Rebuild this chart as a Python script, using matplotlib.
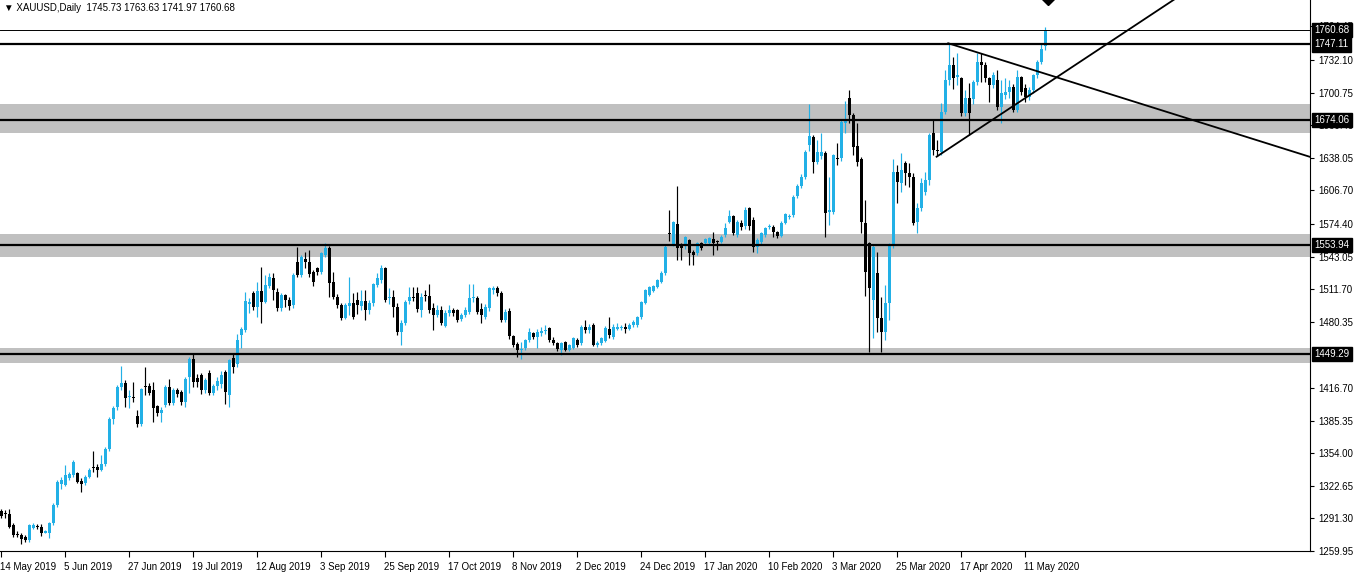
import matplotlib
matplotlib.use("Agg")
import matplotlib.pyplot as plt
import pandas as pd
from matplotlib.transforms import ScaledTranslation, blended_transform_factory

plt.rcParams['font.family'] = ['Liberation Sans', 'DejaVu Sans']

# trading days shown on the chart (broker closed on these)
holidays = ['2019-12-25', '2020-01-01', '2020-04-10']
dates = pd.bdate_range('2019-05-14', '2020-05-18').drop(pd.to_datetime(holidays))

opens = [
    1298, 1296.5, 1296, 1285, 1276, 1275.5, 1273, 1270.5, 1282, 1283.5,
    1283.5, 1277.5, 1277, 1286.5, 1304, 1324, 1323.5, 1330, 1333, 1334.5,
    1327, 1325, 1331, 1341, 1341, 1338, 1344, 1358, 1387, 1398,
    1418, 1421.8, 1408, 1408, 1389.8, 1382, 1418, 1418.9, 1414.8, 1399.5,
    1392.3, 1400, 1418, 1402, 1414.8, 1413.2, 1403.5, 1427.6, 1445, 1426,
    1429, 1414.8, 1430.8, 1412, 1419, 1420.5, 1432, 1410, 1445.2, 1440,
    1467.7, 1472.5, 1497.5, 1507.7, 1495, 1510, 1499.7, 1515, 1522, 1508.7,
    1493.3, 1506, 1501.3, 1496.5, 1538, 1525, 1540.7, 1538, 1528, 1531.8,
    1528.6, 1544.6, 1551, 1519, 1504.5, 1496.5, 1483.7, 1496, 1498, 1501.3,
    1496, 1500, 1491.7, 1498, 1516, 1520.5, 1531.8, 1503, 1504, 1494.9,
    1470.9, 1478.9, 1500, 1504, 1508.4, 1491.7, 1505.5, 1505, 1493.3, 1487,
    1491.7, 1476.3, 1488.5, 1491.7, 1491.7, 1482.7, 1486.9, 1490, 1502.9, 1502.9,
    1492.3, 1485.3, 1493.3, 1511.2, 1512.5, 1508.4, 1482, 1491, 1466.7, 1458.7,
    1452.8, 1454.8, 1462.9, 1469.3, 1466.1, 1469.9, 1471.5, 1474, 1462.9, 1459.7,
    1453.2, 1461.2, 1453.2, 1455, 1462.9, 1459.7, 1475.7, 1472.5, 1477.3, 1458,
    1459.7, 1462.2, 1473.1, 1466.1, 1473.1, 1474.4, 1475.7, 1473, 1477.3, 1477,
    1484.6, 1498.8, 1506.1, 1510.3, 1514, 1519, 1527, 1566, 1554.2, 1574.4,
    1553.6, 1553.6, 1559, 1547.8, 1546.2, 1555.8, 1556.5, 1556.5, 1559.7, 1557.6,
    1557.4, 1563.8, 1576.7, 1582.1, 1563.8, 1575.7, 1572.5, 1589.5, 1578.3, 1552.6,
    1557.4, 1563.8, 1571.5, 1571.8, 1567, 1563, 1575, 1581.3, 1583.1, 1601.3,
    1611, 1619.9, 1650.4, 1658.4, 1634.3, 1639.8, 1642.4, 1586.3, 1586.3, 1638.2,
    1637.6, 1671.2, 1695.2, 1679.2, 1649.4, 1636.6, 1575.1, 1555.8, 1501.3, 1527,
    1483.7, 1471, 1498, 1554, 1624.7, 1614.2, 1633.4, 1623.8, 1619.9, 1576.7,
    1589.5, 1605.5, 1616.7, 1661.6, 1645, 1644, 1682.4, 1712.9, 1727, 1716,
    1714.5, 1680.8, 1695.3, 1695, 1711.2, 1730, 1727.3, 1714.5, 1708, 1713,
    1687.3, 1698.5, 1701.3, 1706.5, 1684, 1716, 1705, 1697, 1703, 1717.7,
    1730.5, 1745.73,
]
highs = [
    1300, 1299, 1300, 1287, 1279, 1277, 1275, 1286, 1287, 1286,
    1285.5, 1280, 1288, 1306, 1328, 1331, 1342.5, 1336, 1347.5, 1336,
    1330, 1333, 1340, 1356, 1344, 1352.5, 1360, 1389, 1399, 1420,
    1437.8, 1424, 1414.8, 1422.8, 1395.5, 1417, 1437, 1421.2, 1422.8, 1400,
    1398, 1419.5, 1425.4, 1417, 1416.5, 1415, 1427, 1446.8, 1450.6, 1430,
    1431, 1426, 1434, 1421, 1427, 1433, 1434, 1445, 1450, 1468.6,
    1475.7, 1509.3, 1503, 1510, 1519, 1533.4, 1525.3, 1527, 1527, 1512.5,
    1507.7, 1506.8, 1504.5, 1527, 1552.6, 1544.6, 1547.8, 1549.4, 1530, 1533.4,
    1547.8, 1555.8, 1553, 1528.6, 1507, 1498, 1498, 1523.8, 1507.7, 1509,
    1511, 1511, 1501.3, 1518, 1527, 1535, 1533, 1512.5, 1511, 1498,
    1482, 1501, 1514, 1514, 1514, 1507.7, 1511, 1516.7, 1498, 1496.5,
    1495.5, 1491.7, 1496.5, 1494, 1493, 1488.5, 1494.9, 1517, 1517, 1505,
    1498, 1497, 1514, 1515, 1514.7, 1510, 1492.3, 1494, 1467.7, 1461,
    1461, 1464, 1474.1, 1471, 1473.1, 1475.7, 1477.3, 1475, 1466, 1461,
    1461.2, 1462, 1459, 1466, 1464.5, 1477, 1482, 1478, 1479, 1462,
    1466, 1476, 1485.3, 1478, 1478.9, 1477, 1478.9, 1479, 1482, 1486,
    1500.5, 1512, 1514.5, 1516, 1521.5, 1529, 1554, 1588, 1577.5, 1611,
    1555.8, 1563, 1559.7, 1549.4, 1557.5, 1557, 1561, 1562, 1567, 1559,
    1563.5, 1575.1, 1587.9, 1583, 1578, 1578, 1591.1, 1591.1, 1581.5, 1560.6,
    1566.5, 1571.5, 1574, 1573.5, 1568, 1577, 1585.3, 1584, 1602, 1612.5,
    1622, 1645.5, 1689.8, 1660, 1655.2, 1661.6, 1645, 1619.9, 1642, 1652,
    1674, 1693, 1703.3, 1680.8, 1671.2, 1639, 1597.5, 1557, 1554.2, 1547,
    1504, 1516, 1556, 1637, 1631.1, 1643, 1634.5, 1633, 1623, 1594.3,
    1618.3, 1624.7, 1662, 1674.4, 1655, 1690.5, 1722.5, 1747.5, 1735, 1738.5,
    1716, 1703, 1709.7, 1713, 1738.5, 1738.5, 1730, 1716, 1720.9, 1722.5,
    1712.9, 1714.5, 1712.9, 1709, 1722.5, 1716.5, 1709, 1706, 1719, 1732,
    1748.1, 1763.63,
]
lows = [
    1292, 1292, 1282, 1273.5, 1273, 1267, 1269, 1269, 1281, 1281,
    1274.5, 1277, 1272.5, 1285, 1302.5, 1320, 1322, 1328.5, 1331, 1325,
    1317, 1323, 1330, 1336, 1331.5, 1337, 1342, 1356, 1382.5, 1396,
    1414.8, 1398.8, 1397.1, 1403.5, 1379.5, 1380.5, 1410, 1410, 1384.3, 1390,
    1384.3, 1398, 1400, 1400, 1408, 1400, 1398, 1411.6, 1418, 1418,
    1411, 1412, 1410, 1410, 1415, 1417, 1401, 1398.7, 1431, 1437,
    1454.8, 1470.9, 1488.5, 1492, 1485.3, 1478.9, 1498, 1513, 1501.3, 1491,
    1490.8, 1494.9, 1491.7, 1494, 1523.8, 1523, 1531.7, 1523.8, 1515, 1525,
    1526, 1543, 1504.5, 1502, 1494, 1482, 1483, 1487, 1483, 1488,
    1491.7, 1482, 1487.5, 1496, 1514, 1518, 1499, 1497, 1485.3, 1467.7,
    1458, 1477, 1497, 1500, 1490, 1485.3, 1500, 1489, 1472.5, 1485,
    1477.3, 1475.7, 1486, 1486, 1480, 1481, 1485, 1488, 1499, 1488,
    1479.5, 1483, 1491, 1507, 1505, 1480, 1480, 1464, 1456.4, 1446.8,
    1445, 1453, 1461, 1464, 1454.8, 1467, 1469, 1461, 1458, 1452.5,
    1448.4, 1452, 1452, 1454, 1456, 1458, 1470, 1470, 1457, 1456,
    1458, 1461, 1464.5, 1464, 1472, 1472, 1469.3, 1472, 1475.5, 1475.7,
    1482.7, 1497, 1505, 1509, 1513, 1518, 1525, 1558, 1553, 1539.8,
    1539.8, 1550, 1535, 1535, 1545, 1549, 1555, 1555.5, 1544.6, 1549.4,
    1556, 1562, 1575, 1564, 1562, 1569, 1570, 1568.6, 1547.8, 1546.2,
    1555, 1562, 1570, 1562.2, 1561, 1562, 1574, 1579, 1581, 1599,
    1609, 1618, 1645, 1623.8, 1632, 1637, 1562.2, 1573.5, 1584, 1631.1,
    1635, 1662, 1672, 1640.8, 1630, 1565.4, 1505, 1451, 1464.5, 1470.9,
    1451.5, 1463, 1482, 1551, 1594.3, 1605.5, 1612, 1610, 1573.5, 1565.4,
    1587, 1602, 1612, 1641, 1639.6, 1641, 1680, 1708, 1704, 1708,
    1678, 1678, 1660, 1690, 1708, 1711, 1711, 1692, 1705, 1684,
    1671.2, 1695, 1696, 1682, 1682, 1698, 1692, 1694, 1700, 1715,
    1728, 1741.97,
]
closes = [
    1294, 1295.8, 1283.5, 1275.5, 1275.5, 1271.5, 1270.5, 1284.5, 1285, 1283,
    1277, 1279, 1286.5, 1304, 1326.5, 1328, 1333, 1334, 1345.5, 1326.5,
    1324, 1331, 1338, 1340, 1338, 1344, 1358, 1387, 1397.5, 1418,
    1421.8, 1406.8, 1408.5, 1407.5, 1382, 1416, 1417.5, 1411.6, 1397.1, 1393,
    1396, 1418, 1402, 1414.8, 1411, 1403.5, 1425, 1445, 1422.8, 1422.8,
    1414.8, 1424, 1411.6, 1419, 1423, 1429.5, 1413, 1443.5, 1437, 1463,
    1473, 1500.4, 1499.7, 1494.9, 1510, 1499.7, 1515.7, 1523.1, 1510.9, 1493.3,
    1506.1, 1501.3, 1495.9, 1525.3, 1525.3, 1543, 1537.5, 1526, 1519, 1527.9,
    1546.2, 1551, 1517.3, 1504.5, 1496.5, 1483.7, 1496.5, 1498, 1485.3, 1496.5,
    1500, 1491.7, 1498, 1516.4, 1522, 1531.8, 1501.3, 1504, 1494.9, 1470.9,
    1478.9, 1499.7, 1504.5, 1503.6, 1492.3, 1504.5, 1505, 1491.7, 1486.9, 1491.7,
    1479.5, 1489.1, 1491.7, 1488.5, 1482, 1486.9, 1491.7, 1502.9, 1504.5, 1490.1,
    1486.9, 1494.9, 1512.5, 1513.2, 1507.7, 1482, 1490.1, 1466.7, 1458, 1453.2,
    1454.5, 1462.9, 1470.9, 1466.1, 1470.9, 1471.4, 1472.2, 1462.9, 1459.7, 1453.9,
    1459.7, 1453.2, 1458, 1464.5, 1458, 1475.7, 1472.5, 1475.7, 1458, 1460.3,
    1464.5, 1474.1, 1467.7, 1475.7, 1475.7, 1474.8, 1473.1, 1477.3, 1480.5, 1484.6,
    1499.7, 1510.9, 1513.5, 1514.8, 1520.6, 1527.6, 1552.6, 1565, 1576.7, 1551,
    1551, 1562.2, 1546.2, 1544.6, 1556.5, 1551, 1559.7, 1560.6, 1556.5, 1557.4,
    1562.2, 1570.3, 1582.1, 1565.4, 1576.7, 1571.8, 1588, 1572, 1552.6, 1559,
    1565.4, 1570.3, 1572, 1567, 1562.9, 1575.7, 1584, 1581.7, 1600.7, 1611,
    1619.9, 1644, 1659, 1634.3, 1643.9, 1643.9, 1585.3, 1587.9, 1640.8, 1636.6,
    1672.8, 1675, 1679.2, 1648.8, 1634.3, 1576.7, 1528.6, 1512.6, 1552.6, 1483.7,
    1471, 1498, 1554, 1624.7, 1615.1, 1626.3, 1623.1, 1619.9, 1575.1, 1589.5,
    1614.2, 1616.7, 1660, 1645.6, 1644.2, 1682.4, 1712.9, 1727.3, 1715, 1717.5,
    1680.8, 1695.3, 1680.8, 1711.2, 1730.5, 1727.3, 1714.5, 1708, 1717.7, 1687.3,
    1700, 1701.8, 1705.8, 1684, 1716, 1701.8, 1696.7, 1703, 1717.7, 1730.5,
    1742.4, 1760.68,
]

# scale labels that show (1449.00 sits fully under the 1449.29 box)
price_ticks = [1764.45, 1732.10, 1700.75, 1669.40, 1638.05, 1606.70, 1574.40,
               1543.05, 1511.70, 1480.35, 1416.70, 1385.35, 1354.00,
               1322.65, 1291.30, 1259.95]
date_labels = ['14 May 2019', '5 Jun 2019', '27 Jun 2019', '19 Jul 2019',
               '12 Aug 2019', '3 Sep 2019', '25 Sep 2019', '17 Oct 2019',
               '8 Nov 2019', '2 Dec 2019', '24 Dec 2019', '17 Jan 2020',
               '10 Feb 2020', '3 Mar 2020', '25 Mar 2020', '17 Apr 2020',
               '11 May 2020']

# support / resistance drawn on the chart
levels = [1747.11, 1674.06, 1553.94, 1449.29]
zone_low = [1661.8, 1542.5, 1440.5]
zone_high = [1689.5, 1564.8, 1455.2]
last_price = 1760.68

# triangle trend lines (bar index, price)
down_x = [236.8, 327.3]
down_y = [1748.2, 1638.9]
up_x = [233.9, 293.3]
up_y = [1639.1, 1790.3]

# arrow object above the last bar
arrow_x = 261.8
arrow_y = 1791.5

BULL = '#22b0e6'
BEAR = 'black'

assert len(opens) == len(highs) == len(lows) == len(closes) == len(dates)

fig = plt.figure(figsize=(13.58, 5.76), dpi=100)
ax = fig.add_axes([0, 25 / 576, 1310 / 1358, 551 / 576])

for lo, hi in zip(zone_low, zone_high):
    ax.axhspan(lo, hi, color='#c0c0c0', lw=0, zorder=1)

xs = range(len(dates))
colors = [BULL if c >= o else BEAR for o, c in zip(opens, closes)]
ax.vlines(xs, lows, highs, colors=colors, lw=0.85, zorder=2)
bottoms = [min(o, c) for o, c in zip(opens, closes)]
heights = [max(abs(c - o), 0.9) for o, c in zip(opens, closes)]
ax.bar(xs, heights, bottom=bottoms, width=0.75, color=colors, lw=0, zorder=2)

for lv in levels:
    ax.axhline(lv, color='black', lw=1.6, zorder=3)
ax.axhline(last_price, color='black', lw=0.7, zorder=3)

ax.plot(down_x, down_y, color='black', lw=1.3, zorder=3)
ax.plot(up_x, up_y, color='black', lw=1.3, zorder=3)
ax.plot([arrow_x], [arrow_y], marker='D', ms=7, color='black', zorder=4)

ax.set_xlim(-0.25, 327.25)
ax.set_ylim(1259.95, 1789.8)

for s in ['top', 'left']:
    ax.spines[s].set_visible(False)
for s in ['right', 'bottom']:
    ax.spines[s].set_linewidth(0.8)

ax.yaxis.tick_right()
ax.set_yticks(price_ticks)
ax.set_yticklabels([f'{p:.2f}' for p in price_ticks])
ax.tick_params(axis='y', length=3, width=0.8, pad=3, labelsize=7)

date_pos = [dates.get_loc(pd.Timestamp(d)) for d in date_labels]
ax.set_xticks(date_pos)
ax.set_xticklabels(date_labels)
ax.tick_params(axis='x', length=4, width=0.8, pad=4, labelsize=7)
shift = ScaledTranslation(-1 / 100, 0, fig.dpi_scale_trans)
for lab in ax.get_xticklabels():
    lab.set_ha('left')
    lab.set_transform(lab.get_transform() + shift)

# price boxes on the right scale
trans = blended_transform_factory(ax.transAxes, ax.transData)
for p in [last_price] + levels:
    ax.text(1.0035, p, f'{p:.2f}', transform=trans, fontsize=7, color='white',
            ha='left', va='center', zorder=5, clip_on=False,
            bbox=dict(boxstyle='square,pad=0.22', fc='black', ec='black'))

fig.text(4 / 1358, 1 - 8 / 576,
         '\u25bc XAUUSD,Daily  1745.73 1763.63 1741.97 1760.68',
         fontsize=7, va='center', ha='left')

fig.savefig('out.png', dpi=100, facecolor='white')
